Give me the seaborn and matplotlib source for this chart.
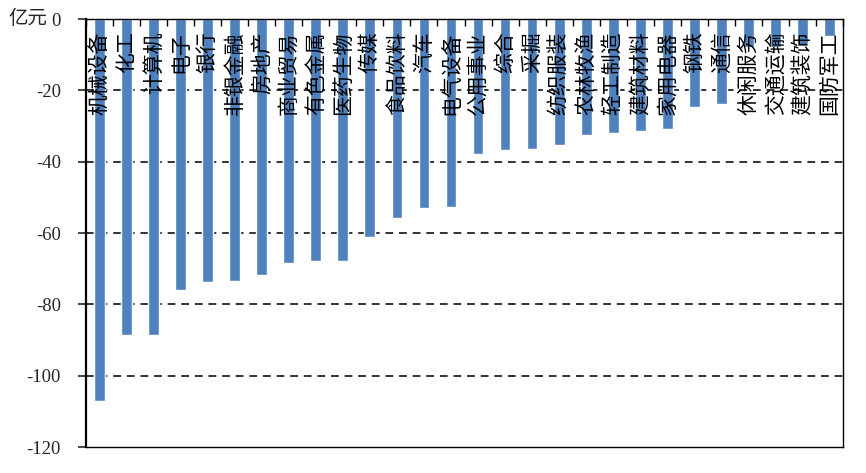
import numpy as np
import pandas as pd
import matplotlib
matplotlib.use("Agg")
import matplotlib.pyplot as plt
import seaborn as sns

# industries, in the order shown
categories = ['机械设备', '化工', '计算机', '电子', '银行', '非银金融', '房地产',
              '商业贸易', '有色金属', '医药生物', '传媒', '食品饮料', '汽车',
              '电气设备', '公用事业', '综合', '采掘', '纺织服装', '农林牧渔',
              '轻工制造', '建筑材料', '家用电器', '钢铁', '通信', '休闲服务',
              '交通运输', '建筑装饰', '国防军工']
# net flow, 亿元
values = [-107.2, -88.7, -88.7, -75.9, -73.7, -73.4, -71.7,
          -68.3, -67.8, -67.8, -61.2, -55.7, -53.1,
          -52.8, -37.8, -36.7, -36.4, -35.3, -32.5,
          -31.9, -31.4, -30.9, -24.6, -23.9, -7.8,
          -7.8, -7.6, -4.9]
y_ticks = [0, -20, -40, -60, -80, -100, -120]
y_unit = '亿元'

sns.set_style('white')
plt.rcParams['font.family'] = ['Liberation Serif', 'Noto Sans CJK SC']
plt.rcParams['axes.unicode_minus'] = False

df = pd.DataFrame({'industry': categories, 'value': values})

fig = plt.figure(figsize=(8.66, 4.73), dpi=100)
ax = fig.add_axes([86 / 866, 1 - 447 / 473, (843 - 86) / 866, (447 - 19) / 473])

sns.barplot(data=df, x='industry', y='value', color='#4F81BD', saturation=1,
            width=0.4, ax=ax)

ax.set_ylim(-120, 0)
ax.set_xlim(-0.5, len(categories) - 0.5)

# dashed gridlines
for t in y_ticks[1:-1]:
    ax.axhline(t, color='#333333', linestyle=(0, (4, 3)), linewidth=1.4, zorder=0)

ax.set_yticks(y_ticks)
ax.set_yticklabels([str(t) for t in y_ticks], fontsize=13.5)
ax.tick_params(axis='y', direction='out', length=6, width=1.2, pad=12, left=True)

# category axis at the top with ticks between bars
ax.set_xlabel('')
ax.set_ylabel('')
ax.set_xticks([])
ax.set_xticks(np.arange(len(categories) + 1) - 0.5, minor=True)
ax.tick_params(axis='x', which='minor', top=True, bottom=False, direction='in',
               length=5, width=1.0, color='black')

for s in ['top', 'right', 'bottom']:
    ax.spines[s].set_color('black')
    ax.spines[s].set_linewidth(1.0)
ax.spines['left'].set_color('black')
ax.spines['left'].set_linewidth(1.6)

for i, name in enumerate(categories):
    ax.text(i, -3.4, name, rotation=90, ha='center', va='top', fontsize=15,
            family=['Noto Sans CJK SC', 'DejaVu Sans'], color='black', zorder=5)

fig.text(8 / 866, 1 - 19 / 473, y_unit, ha='left', va='center', fontsize=14,
         family=['Noto Sans CJK SC', 'DejaVu Sans'])

fig.savefig('out.png', dpi=100)
